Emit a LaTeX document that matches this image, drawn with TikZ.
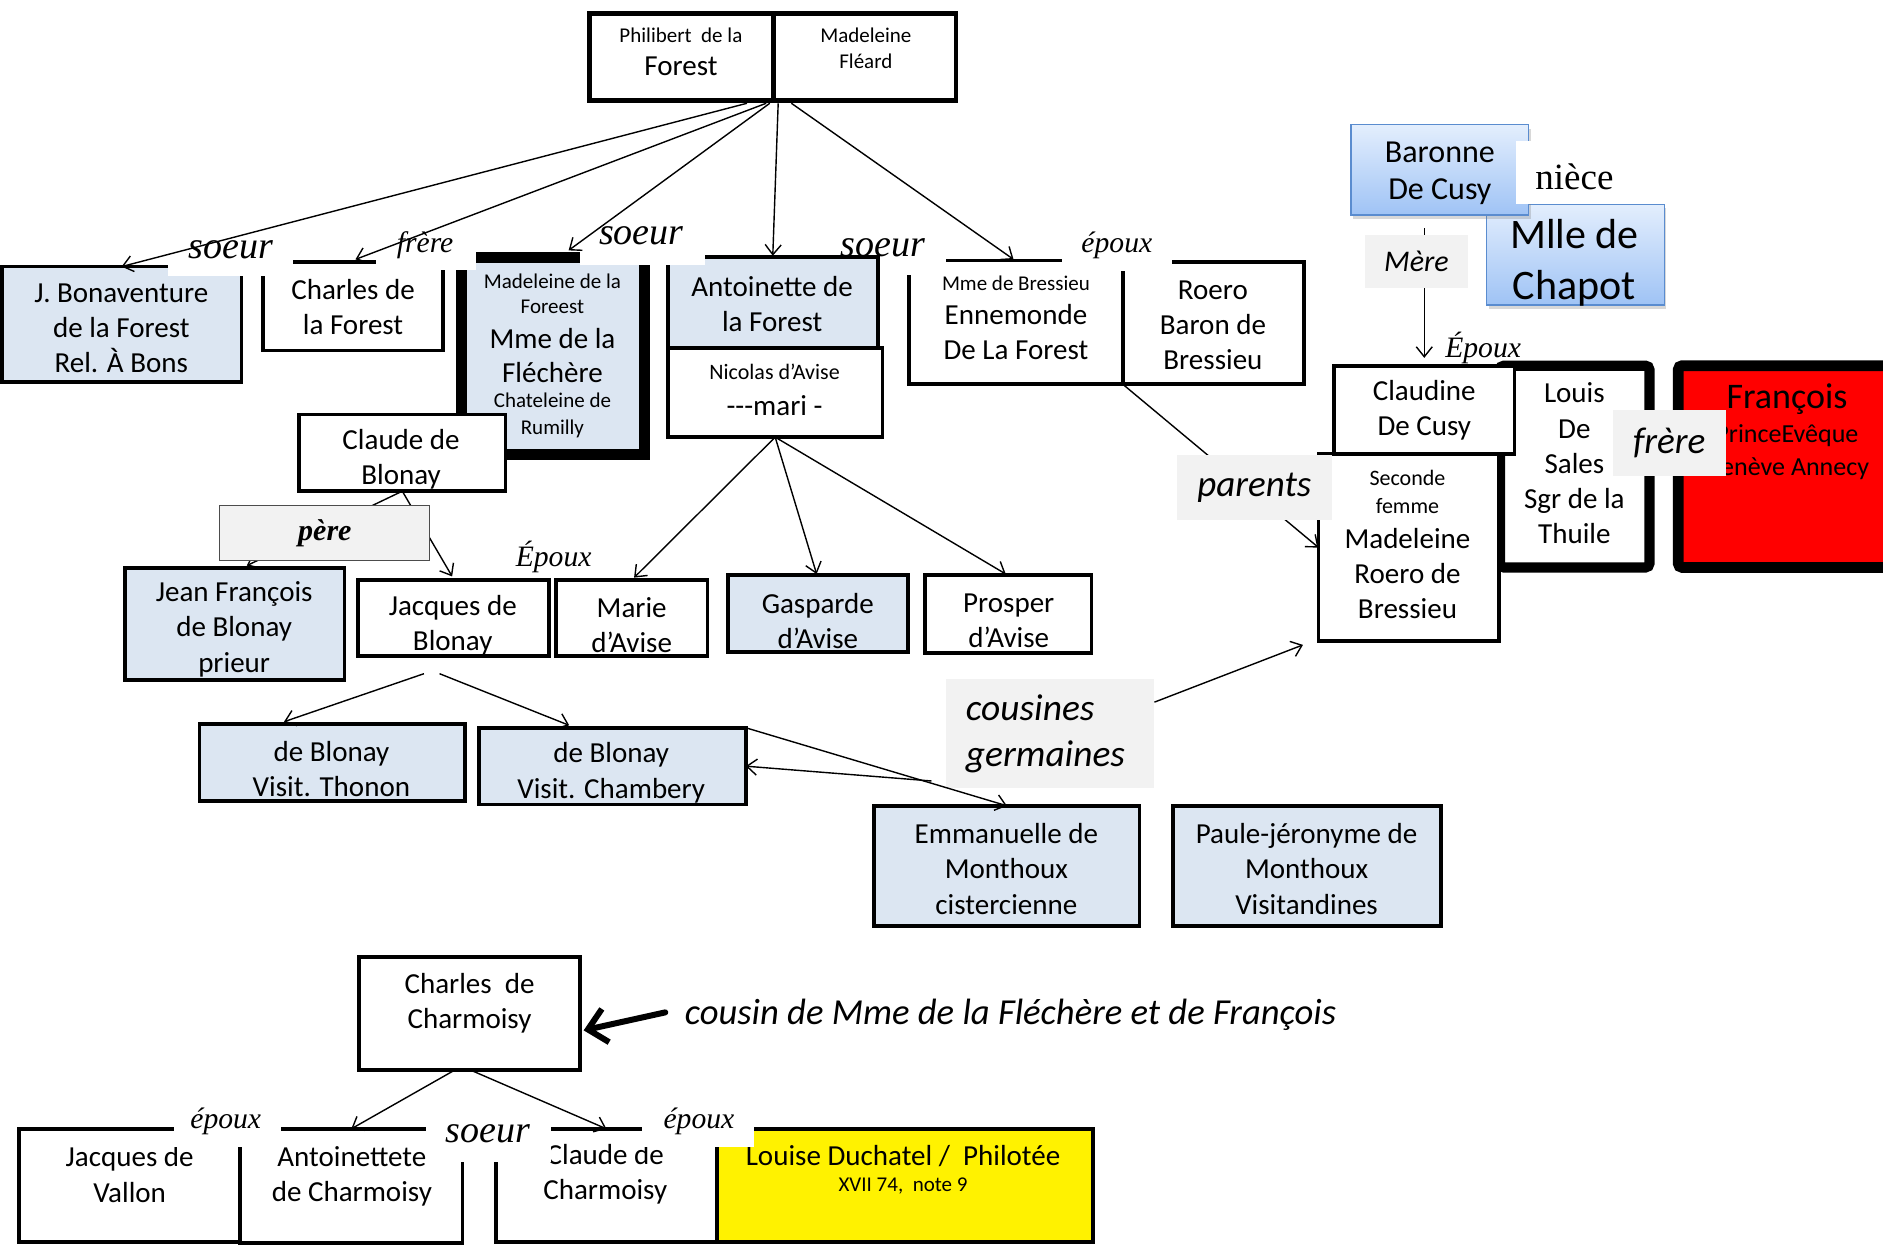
\documentclass[tikz,border=0pt]{standalone}
\usepackage{fontspec}
\setmainfont{Carlito}
\newfontfamily\tms{Liberation Serif}
\usetikzlibrary{arrows.meta,calc,shadows}
\definecolor{boxblue}{HTML}{DCE6F2}
\definecolor{lblgray}{HTML}{F2F2F2}
\definecolor{gradtop}{HTML}{E3EEFD}
\definecolor{gradbot}{HTML}{9FC3F5}
\definecolor{gradline}{HTML}{5A8CCF}
\newcommand\fsz[2]{\fontsize{#1}{#2}\selectfont}
\newcommand\bx[6]{%
 \pgfmathsetmacro\Bw{(#4-#2)*0.6}\pgfmathsetmacro\Bh{(#5-#3)*0.6}%
 \pgfmathsetmacro\Bcx{(#2+#4)/2}\pgfmathsetmacro\Bcy{(#3+#5)/2}%
 \node[#6, minimum width=\Bw pt, minimum height=\Bh pt] (#1) at (\Bcx,\Bcy) {};}
\begin{document}
\begin{tikzpicture}[x=0.6pt,y=-0.6pt,
  bx/.style={draw, fill=white, line width=1.8pt, inner sep=0pt, outer sep=0pt},
  bl/.style={bx, fill=boxblue},
  gradbox/.style={draw=gradline, line width=0.6pt, inner sep=0pt, outer sep=0pt, top color=gradtop, bottom color=gradbot, drop shadow={opacity=0.3, shadow xshift=1pt, shadow yshift=-2pt}},
  softshadow/.style={drop shadow={opacity=0.2, shadow xshift=0pt, shadow yshift=-2pt}},
  tx/.style={align=center, inner sep=0pt, font=\fsz{14.5}{17.6}},
  sm/.style={align=center, inner sep=0pt, font=\fsz{10.5}{13.2}},
  lab/.style={inner sep=0pt, font=\tms\itshape\fsz{14.8}{16}},
  bigsoeur/.style={inner sep=0pt, font=\tms\itshape\fsz{19}{20}},
  glab/.style={fill=lblgray, inner sep=0pt, font=\itshape\fsz{18.5}{20}},
  conn/.style={line width=0.7pt, -{Straight Barb[length=5pt,width=8pt]}},
  ]
\useasboundingbox (0,0) rectangle (1568,1038);
\clip (0,0) rectangle (1568,1038);
\fill[white] (0,0) rectangle (1568,1038);

% ---------- boxes ----------
\bx{phil}{491}{11}{644}{84}{bx, line width=2.4pt}
\bx{mfl}{644}{11}{796}{84}{bx, line width=2.4pt}
\bx{jb}{1.5}{222}{201}{318}{bl}
\bx{charles}{219}{218}{369}{292}{bx}
\bx{mad}{384.5}{214.5}{536.5}{378.5}{bl, line width=5.4pt}
\bx{ant}{556}{214}{731}{290}{bl}
\bx{nic}{556}{290}{735}{364}{bx}
\bx{bres}{757}{217}{935}{320}{bx}
\bx{roero}{935}{218}{1086}{320}{bx}
\bx{cblon}{249}{345}{421}{409}{bx}
\bx{jf}{104}{473}{287}{566}{bl}
\bx{jac}{298}{483}{457}{546}{bx}
\bx{marie}{463}{483}{589}{546}{bx}
\bx{gasp}{606}{479}{756}{543}{bl}
\bx{pros}{770}{479}{909}{544}{bx}
\bx{thon}{166}{603}{387}{667}{bl}
\bx{chamb}{399}{606}{621}{670}{bl}
\bx{emm}{728}{671}{949}{771}{bl}
\bx{paule}{977}{671}{1200}{771}{bl}
\bx{mlle}{1238}{170}{1386}{254}{gradbox}
\bx{bar}{1125}{104}{1273}{179}{gradbox}
\bx{louis}{1249}{304.5}{1373.5}{472.5}{bx, line width=5.1pt, rounded corners=2pt, softshadow}
\bx{fran}{1397.5}{304.5}{1620}{472.5}{bx, line width=5.4pt, fill=red, rounded corners=2pt, softshadow}
\bx{clau}{1111}{305}{1261}{378}{bx}
\bx{sf}{1098}{378}{1248}{534}{bx}
\bx{charm}{299}{797}{483}{891}{bx}
\bx{vallon}{16}{940}{200}{1034}{bx}
\bx{ant2}{200}{940}{385}{1035}{bx}
\bx{cl2}{413}{940}{597}{1034}{bx}
\bx{louise}{597}{940}{910}{1034}{bx, fill=yellow}

% ---------- box texts ----------
\node[sm] (tphil1) at (567,29) {Philibert\ \ de la};
\node[tx] (tphil2) at (567,55) {Forest};
\node[sm] (tmfl) at (721,40) {Madeleine\\Fléard};
\node[tx] (tjb) at (101,273.5) {J. Bonaventure\\de la Forest\\Rel. À Bons};
\node[tx] (tcharles) at (294,255.5) {Charles de\\la Forest};
\node[sm, font=\fsz{10.5}{12.6}] (tmad1) at (460,244.5) {Madeleine de la\\Foreest};
\node[tx, font=\fsz{14.5}{16.8}] (tmad2) at (460,296) {Mme de la\\Fléchère};
\node[sm] (tmad3) at (460,346) {Chateleine de\\Rumilly};
\node[tx] (tant) at (643,253) {Antoinette de\\la Forest};
\node[sm, font=\fsz{11}{13}] (tnic1) at (645,310) {Nicolas d’Avise};
\node[tx] (tnic2) at (645,338) {-{}-{}-mari -};
\node[sm] (tbres1) at (846,236) {Mme de Bressieu};
\node[tx] (tbres2) at (846,276.5) {Ennemonde\\De La Forest};
\node[tx] (troero) at (1010,271) {Roero\\Baron de\\Bressieu};
\node[tx] (tcblon) at (334,382.5) {Claude de\\Blonay};
\node[tx] (tjf) at (195,524) {Jean François\\de Blonay\\prieur};
\node[tx] (tjac) at (377,520.5) {Jacques de\\Blonay};
\node[tx] (tmarie) at (526,520.5) {Marie\\d’Avise};
\node[tx] (tgasp) at (681,517) {Gasparde\\d’Avise};
\node[tx] (tpros) at (840,517) {Prosper\\d’Avise};
\node[tx] (tthon) at (276,640.5) {de Blonay\\Visit. Thonon};
\node[tx] (tchamb) at (509,643.5) {de Blonay\\Visit. Chambery};
\node[tx] (temm) at (838,723.5) {Emmanuelle de\\Monthoux\\cistercienne};
\node[tx] (tpaule) at (1088,723.5) {Paule-jéronyme de\\Monthoux\\Visitandines};
\node[tx, font=\fsz{16}{18.6}] (tbar) at (1199,144.5) {Baronne\\De Cusy};
\node[tx, font=\fsz{21}{25.2}] (tmlle) at (1311,219) {Mlle de\\Chapot};
\node[tx] (tclau) at (1186,341.5) {Claudine\\De Cusy};
\node[sm, font=\fsz{11}{13.8}] (tsf1) at (1172,409.5) {Seconde\\femme};
\node[tx] (tsf2) at (1172,477.5) {Madeleine\\Roero de\\Bressieu};
\node[tx] (tlouis) at (1311,386) {Louis\\De\\Sales\\Sgr de la\\Thuile};
\node[tx, font=\fsz{18}{20}] (tfran1) at (1488,332) {François};
\node[tx, font=\fsz{13}{16.2}] (tfran2) at (1488,376.5) {PrinceEvêque\\Genève Annecy};
\node[tx] (tcharm) at (391,835.5) {Charles\ \ de\\Charmoisy};
\node[tx] (tvallon) at (108,978) {Jacques de\\Vallon};
\node[tx] (tant2) at (293,979.5) {Antoinettete\\de Charmoisy};
\node[tx] (tcl2) at (504,978) {Claude de\\Charmoisy};
\node[tx] (tlouise1) at (752,963) {Louise Duchatel /\ \ Philotée};
\node[sm] (tlouise2) at (752,988) {XVII 74,\ \ note 9};

% ---------- white labels ----------
\fill[white] (140,190) rectangle (244,230);
\node[bigsoeur] (ls1) at (192,208) {soeur};
\fill[white] (313,188) rectangle (396,225);
\node[lab] (lf1) at (354,204) {frère};
\fill[white] (483,180) rectangle (587,221);
\node[bigsoeur] (ls2) at (534,196) {soeur};
\fill[white] (733,190) rectangle (788,229);
\node[bigsoeur] (ls3) at (735,206) {soeur};
\fill[white] (884,190) rectangle (976,226);
\node[lab] (le1) at (930,204) {époux};
\fill[white] (1262,117) rectangle (1387,170);
\node[inner sep=0pt, font=\tms\fsz{18.5}{20}] (lniece) at (1311,147) {nièce};
\node[lab] (le2) at (461,464) {Époux};
\node[lab] (le3) at (1235,290) {Époux};
\fill[white] (145,918) rectangle (234,955);
\node[lab] (le4) at (188,934) {époux};
\fill[white] (355,922) rectangle (459,968);
\node[bigsoeur] (ls4) at (406,944) {soeur};
\fill[white] (535,918) rectangle (628,955);
\node[lab] (le5) at (582,934) {époux};

% ---------- label nodes used by connectors ----------
\node[fill=lblgray, inner sep=0pt, minimum width=103.8pt, minimum height=54.6pt] (cous) at (874.5,610.5) {};
\node[anchor=west, align=left, inner sep=0pt, font=\itshape\fsz{18.7}{22.8}] (coustxt) at (804,611) {cousines\\germaines};
\node[anchor=west, inner sep=0pt, font=\itshape\fsz{18.3}{20}] (cousin) at (570,845) {cousin de Mme de la Fléchère et de François};

% ---------- connectors ----------
\draw[conn] ($(phil.south east)+(-22,2)$) -- (jb.north);
\draw[conn] ($(phil.south east)+(-6,2)$) -- ($(charles.north)+(2,-2)$);
\draw[conn] ($(phil.south east)+(-3,2)$) -- ($(mad.north)+(13,-6)$);
\draw[conn] ($(mfl.south west)+(4,2)$) -- ($(ant.north)+(0,-1)$);
\draw[conn] ($(mfl.south west)+(15,2)$) -- ($(bres.north)+(-2,-1)$);
\draw[conn] (nic.south) -- ($(marie.north)+(2,-2)$);
\draw[conn] (nic.south) -- ($(gasp.north)+(-1,-1)$);
\draw[conn] (nic.south) -- ($(pros.north)+(-2,-1)$);
\draw[conn] (cblon.south) -- ($(jf.north)+(10,-2)$);
\draw[conn] (cblon.south) -- ($(jac.north)+(-1,-3)$);
\coordinate (jk1) at ($(jac.south)+(-24.5,15)$);
\coordinate (jk2) at ($(jac.south)+(-11.5,15)$);
\draw[conn] (jk1) -- ($(thon.north)+(-40,-2)$);
\draw[conn] (jk2) -- ($(chamb.north)+(-36,-2)$);
\draw[conn] (chamb.north east) -- (emm.north);
\draw[conn] ($(cous.south west)+(-12,-6)$) -- (chamb.east);
\draw[conn] ($(cous.north east)+(0,20)$) -- ($(sf.south west)+(-13,3)$);
\draw[conn] (bres.south east) -- (sf.west);
\draw[conn] ($(clau.north |- bar.south)+(0,11)$) -- ($(clau.north)+(0,-7)$);
\draw[conn] ($(charm.south)+(-14,1)$) -- (ant2.north);
\draw[conn] ($(charm.south)+(3,1)$) -- (cl2.north);
\draw[line width=3pt, line cap=round, -{Straight Barb[length=9pt,width=17pt]}] ($(cousin.west)+(-16,-2)$) -- ($(charm.east)+(3,14)$);

% ---------- gray labels on top ----------
\node[draw=gray!60!black, line width=0.5pt, fill=lblgray, inner sep=0pt, minimum width=105pt, minimum height=27.6pt, font=\tms\bfseries\itshape\fsz{15}{16}] (pere) at (270.5,444) {père};
\node[glab, minimum width=51pt, minimum height=26.4pt, font=\itshape\fsz{15}{16}] (mere) at (1179.5,218) {Mère};
\node[glab, minimum width=77.4pt, minimum height=32.4pt] (parents) at (1044.5,406) {parents};
\node[glab, minimum width=56.4pt, minimum height=33pt, font=\itshape\fsz{18.6}{20}] (frere2) at (1390,368.5) {frère};
\end{tikzpicture}
\end{document}
